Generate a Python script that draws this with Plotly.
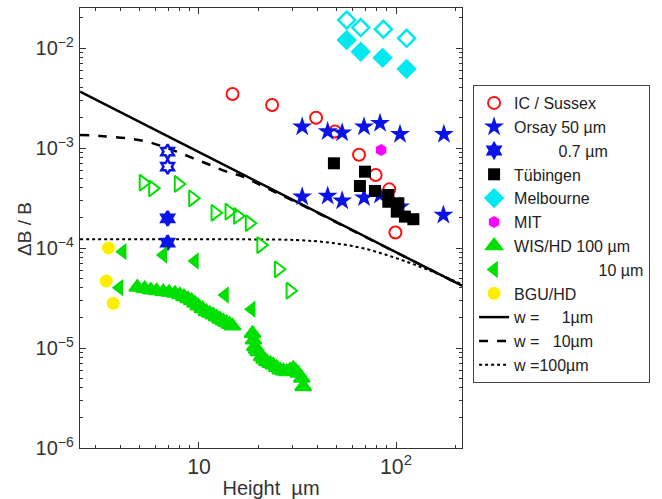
import plotly.graph_objects as go

# ---------------- data ----------------
ic_h = [14.8, 23.5, 39.3, 49.0, 64.9, 78.8, 92.5, 99.3]
ic_b = [3.47e-3, 2.69e-3, 2.01e-3, 1.46e-3, 8.57e-4, 5.37e-4, 3.86e-4, 1.43e-4]

orsay50_h = [33.4, 45.0, 53.3, 68.8, 83.0, 104.8, 175.0,
             33.4, 45.0, 53.3, 68.8, 83.0, 104.8, 174.0]
orsay50_b = [1.63e-3, 1.46e-3, 1.42e-3, 1.63e-3, 1.77e-3, 1.37e-3, 1.37e-3,
             3.26e-4, 3.31e-4, 2.97e-4, 3.19e-4, 3.39e-4, 2.59e-4, 2.14e-4]

orsay07_h = [6.93, 6.93, 6.93, 6.93]
orsay07_b = [1.98e-4, 1.13e-4, 9.19e-4, 6.51e-4]
orsay07_sym = ["hexagram", "hexagram", "hexagram-open", "hexagram-open"]

tub_h = [48.4, 69.6, 65.6, 78.2, 91.4, 91.4, 102.8, 100.9, 111.0, 122.5]
tub_b = [7.03e-4, 5.8e-4, 4.17e-4, 3.72e-4, 3.39e-4, 2.9e-4, 2.8e-4, 2.31e-4, 2.06e-4, 1.94e-4]

mel_h = [56.2, 66.2, 85.5, 113.2, 56.2, 66.2, 86.3, 113.2]
mel_b = [1.2e-2, 9.19e-3, 8.0e-3, 6.17e-3, 1.905e-2, 1.6e-2, 1.54e-2, 1.25e-2]
mel_sym = ["diamond"] * 4 + ["diamond-open"] * 4

mit_h = [84.0]
mit_b = [9.55e-4]

wis100_h = [4.86, 5.3, 5.69, 6.1, 6.59, 7.05, 7.55, 8.0, 8.39, 8.8, 9.18, 9.55, 9.92, 10.4,
            10.9, 11.35, 11.8, 12.3, 12.8, 13.3, 13.8, 14.3, 14.8,
            18.7, 18.9, 19.2, 19.6, 20.0, 20.8, 21.4, 22.1, 23.0, 23.8, 24.8, 25.8,
            26.8, 27.9, 29.0, 30.1, 31.0, 31.9, 33.2, 33.8]
wis100_b = [4.05e-5, 3.92e-5, 3.8e-5, 3.73e-5, 3.66e-5, 3.6e-5, 3.52e-5, 3.4e-5, 3.26e-5, 3.1e-5,
            2.97e-5, 2.8e-5, 2.63e-5, 2.47e-5, 2.31e-5, 2.22e-5, 2.14e-5, 2.04e-5, 1.94e-5,
            1.86e-5, 1.79e-5, 1.72e-5, 1.66e-5,
            1.4e-5, 1.2e-5, 1.03e-5, 9.7e-6, 9.19e-6, 8.19e-6, 7.7e-6, 7.3e-6, 7.0e-6, 6.76e-6,
            6.4e-6, 6.03e-6, 5.9e-6, 5.8e-6, 6.0e-6, 6.27e-6, 5.9e-6, 5.58e-6, 4.98e-6, 4.1e-6]
wis100o_h = [5.21, 5.82, 7.85, 9.29, 12.06, 14.2, 15.7, 18.0, 20.6, 25.3, 29.0]
wis100o_b = [4.5e-4, 3.95e-4, 4.37e-4, 3.14e-4, 2.25e-4, 2.31e-4, 2.09e-4, 1.77e-4,
             1.07e-4, 6.12e-5, 3.74e-5]

wis10_h = [4.1, 6.59, 9.54, 3.94, 13.55, 18.5]
wis10_b = [9.19e-5, 8.51e-5, 7.41e-5, 4.01e-5, 3.39e-5, 2.44e-5]

bgu_h = [3.47, 3.38, 3.67]
bgu_b = [1.0e-4, 4.68e-5, 2.8e-5]

w1_h = [2.49, 216.0]
w1_b = [3.66e-3, 4.2e-5]

w10_h = [2.49, 3.14, 4.3, 5.43, 6.59, 7.71, 9.36, 11.4, 13.8, 16.8, 20.4, 30.0, 60.0, 120.0, 216.0]
w10_b = [1.35e-3, 1.32e-3, 1.25e-3, 1.16e-3, 1.03e-3, 9.2e-4, 7.88e-4, 6.76e-4, 5.8e-4,
         5.16e-4, 4.27e-4, 2.98e-4, 1.5e-4, 7.55e-5, 4.19e-5]

w100_h = [2.49, 8.0, 17.5, 31.3, 46.2, 68.2, 101.0, 149.0, 216.0]
w100_b = [1.22e-4, 1.22e-4, 1.22e-4, 1.2e-4, 1.13e-4, 9.93e-5, 7.88e-5, 5.93e-5, 4.35e-5]

x_range_log = [0.396, 2.335]
y_range_log = [-6, -1.6]

# ---------------- figure ----------------
NB = "\u00a0"
FONT = "Liberation Sans, Arial"
fig = go.Figure()

# theory lines first (drawn beneath markers), ranked last in legend
fig.add_trace(go.Scatter(x=w1_h, y=w1_b, mode="lines", name="w =" + NB * 5 + "1µm",
                         legendrank=1010, line=dict(color="black", width=2.5)))
fig.add_trace(go.Scatter(x=w10_h, y=w10_b, mode="lines", name="w =" + NB * 3 + "10µm",
                         legendrank=1011,
                         line=dict(color="black", width=2.5, dash="dash", shape="spline")))
fig.add_trace(go.Scatter(x=w100_h, y=w100_b, mode="lines", name="w =100µm",
                         legendrank=1012,
                         line=dict(color="black", width=2, dash="dot", shape="spline")))

fig.add_trace(go.Scatter(x=ic_h, y=ic_b, mode="markers", name="IC / Sussex", legendrank=1,
                         marker=dict(symbol="circle-open", size=12, color="#ff1010",
                                     line=dict(width=2, color="#ff1010"))))
fig.add_trace(go.Scatter(x=orsay50_h, y=orsay50_b, mode="markers", name="Orsay 50 µm",
                         legendrank=2,
                         marker=dict(symbol="star", size=15, color="#0a14e6",
                                     line=dict(width=0))))
fig.add_trace(go.Scatter(x=orsay07_h, y=orsay07_b, mode="markers",
                         name=NB * 10 + "0.7 µm", legendrank=3,
                         marker=dict(symbol=orsay07_sym, size=11, color="#0a14e6",
                                     line=dict(width=2.5, color="#0a14e6"))))
fig.add_trace(go.Scatter(x=tub_h, y=tub_b, mode="markers", name="Tübingen", legendrank=4,
                         marker=dict(symbol="square", size=12, color="black",
                                     line=dict(width=0))))
fig.add_trace(go.Scatter(x=mel_h, y=mel_b, mode="markers", name="Melbourne", legendrank=5,
                         marker=dict(symbol=mel_sym, size=13, color="#00e8f0",
                                     line=dict(width=2.5, color="#00e8f0"))))
fig.add_trace(go.Scatter(x=mit_h, y=mit_b, mode="markers", name="MIT", legendrank=6,
                         marker=dict(symbol="hexagon", size=12, color="#ff00ff",
                                     line=dict(width=0))))
fig.add_trace(go.Scatter(x=wis100_h + wis100o_h, y=wis100_b + wis100o_b, mode="markers",
                         name="WIS/HD 100 µm" + NB * 2, legendrank=7,
                         marker=dict(symbol=["triangle-up"] * len(wis100_h) +
                                     ["triangle-right-open"] * len(wis100o_h),
                                     size=14, color="#00e000",
                                     line=dict(width=2, color="#00e000"))))
fig.add_trace(go.Scatter(x=wis10_h, y=wis10_b, mode="markers",
                         name=NB * 19 + "10 µm", legendrank=8,
                         marker=dict(symbol="triangle-left", size=15, color="#00e000",
                                     line=dict(width=0))))
fig.add_trace(go.Scatter(x=bgu_h, y=bgu_b, mode="markers", name="BGU/HD", legendrank=9,
                         marker=dict(symbol="circle", size=13, color="#ffee00",
                                     line=dict(width=0))))

axis_common = dict(type="log", showgrid=False, zeroline=False, showline=True,
                   linecolor="#333", linewidth=1, mirror="ticks", ticks="inside",
                   ticklen=6, tickcolor="#333", dtick=1, exponentformat="power",
                   minor=dict(ticks="inside", ticklen=3, tickcolor="#333", showgrid=False))

fig.update_layout(
    width=662, height=499,
    margin=dict(l=80, r=200, t=8, b=51, autoexpand=False),
    paper_bgcolor="white", plot_bgcolor="white",
    font=dict(family=FONT, size=16, color="#222"),
    xaxis=dict(range=x_range_log, title=dict(text="Height  µm", standoff=4,
               font=dict(size=20, color="#333")),
               tickfont=dict(family=FONT, size=17, color="#333"), **axis_common),
    yaxis=dict(range=y_range_log, ticklabelstandoff=2,
               tickfont=dict(family=FONT, size=16, color="#333"), **axis_common),
    legend=dict(x=1.029, y=0.825, xanchor="left", yanchor="top",
                bgcolor="white", bordercolor="#444", borderwidth=1,
                traceorder="normal", font=dict(size=16, color="#222"),
                itemwidth=30, tracegroupgap=0),
    showlegend=True,
    annotations=[dict(text="ΔB / B", x=-0.145, y=0.497, xref="paper", yref="paper",
                      xanchor="center", yanchor="middle", textangle=-90, showarrow=False,
                      font=dict(family=FONT, size=19, color="#333"))],
)

fig.write_html("out.html")
